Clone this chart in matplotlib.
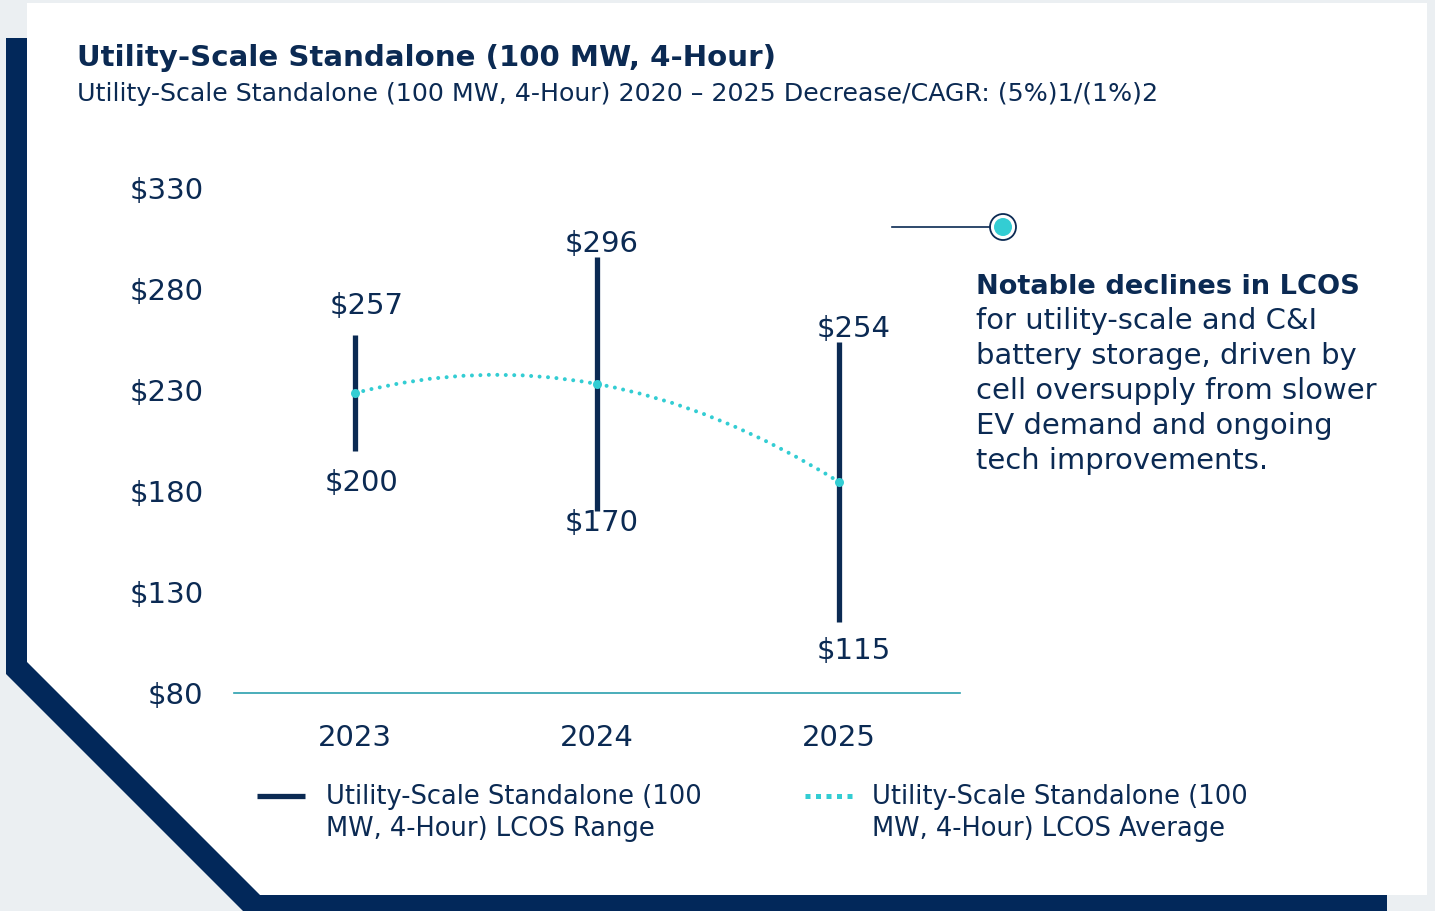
import numpy as np
import matplotlib
matplotlib.use("Agg")
import matplotlib.pyplot as plt
from matplotlib.patches import Polygon, Circle, PathPatch
from matplotlib.path import Path

plt.rcParams['font.family'] = ['DejaVu Sans']

# ---------------- data ----------------
years = ['2023', '2024', '2025']
range_low = [200, 170, 115]
range_high = [257, 296, 254]
average = [228.5, 233, 184.5]
yticks = [80, 130, 180, 230, 280, 330]
ytick_labels = ['\\$80', '\\$130', '\\$180', '\\$230', '\\$280', '\\$330']

title = 'Utility-Scale Standalone (100 MW, 4-Hour)'
subtitle = 'Utility-Scale Standalone (100 MW, 4-Hour) 2020 \u2013 2025 Decrease/CAGR: (5%)1/(1%)2'
note_head = 'Notable declines in LCOS'
note_lines = ['for utility-scale and C&I', 'battery storage, driven by',
              'cell oversupply from slower', 'EV demand and ongoing',
              'tech improvements.']
legend_range = ['Utility-Scale Standalone (100', 'MW, 4-Hour) LCOS Range']
legend_avg = ['Utility-Scale Standalone (100', 'MW, 4-Hour) LCOS Average']

# ---------------- style ----------------
NAVY = '#0b2a53'
BORDER = '#02285a'
TEAL = '#33cdd3'
AXIS_TEAL = '#2a9fae'
BG = '#ebeff2'
W, H = 1435, 911

fig = plt.figure(figsize=(W / 100, H / 100), dpi=100)
fig.patch.set_facecolor(BG)
renderer = fig.canvas.get_renderer()


def fit(t, width_px):
    w = t.get_window_extent(renderer).width
    t.set_fontsize(t.get_fontsize() * width_px / w)
    return t.get_fontsize()


# background / frame in pixel coordinates
bg = fig.add_axes([0, 0, 1, 1], zorder=0)
bg.set_xlim(0, W)
bg.set_ylim(H, 0)
bg.axis('off')
bg.add_patch(Polygon([(27, 3), (1427, 3), (1427, 895), (260, 895), (27, 662)],
                     closed=True, facecolor='white', edgecolor='none'))
bg.add_patch(Polygon([(6, 38), (27, 38), (27, 662), (260, 895), (1387, 895),
                      (1387, 911), (243, 911), (6, 674)],
                     closed=True, facecolor=BORDER, edgecolor='none'))

# titles
t = bg.text(77, 66, title, fontsize=21, fontweight='bold', color=NAVY, va='baseline')
fit(t, 700)
t = bg.text(77, 101, subtitle, fontsize=16, color=NAVY, va='baseline')
fit(t, 1086)

# note with marker
bg.plot([892, 990], [227, 227], color=NAVY, lw=1.2)
bg.add_patch(Circle((1003, 227), 13, facecolor='white', edgecolor=NAVY, lw=1.3))
bg.add_patch(Circle((1003, 227), 9, facecolor=TEAL, edgecolor='none'))
t = bg.text(976, 294, note_head, fontsize=19, fontweight='bold', color=NAVY, va='baseline')
fit(t, 385)
t = bg.text(976, 329, note_lines[2], fontsize=19, color=NAVY, va='baseline')
fs_note = fit(t, 401)
t.remove()
for i, line in enumerate(note_lines):
    bg.text(976, 329 + 35 * i, line, fontsize=fs_note, color=NAVY, va='baseline')

# legend
bg.plot([257, 305], [796, 796], color=NAVY, lw=3.8, solid_capstyle='butt')
bg.plot([805, 853], [796, 796], color=TEAL, lw=3.6, linestyle=(0, (1, 1.1)),
        dash_capstyle='butt')
t = bg.text(326, 804, legend_range[0], fontsize=16, color=NAVY, va='baseline')
fs_leg = fit(t, 377)
bg.text(326, 836, legend_range[1], fontsize=fs_leg, color=NAVY, va='baseline')
bg.text(872, 804, legend_avg[0], fontsize=fs_leg, color=NAVY, va='baseline')
bg.text(872, 836, legend_avg[1], fontsize=fs_leg, color=NAVY, va='baseline')

# ---------------- chart ----------------
ax = fig.add_axes([234 / W, (H - 693) / H, (960 - 234) / W, (693 - 188) / H], zorder=1)
ax.set_facecolor('none')
x = np.arange(len(years))
ax.set_xlim(-0.5, 2.5)
ax.set_ylim(80, 330)

ax.vlines(x, range_low, range_high, color=NAVY, lw=3.8, zorder=2)

# smooth average curve (quadratic Bezier segments through the data points)
yv = np.asarray(average, dtype=float)
d = np.gradient(yv, edge_order=2)
verts, codes = [(x[0], yv[0])], [Path.MOVETO]
for i in range(len(x) - 1):
    verts += [(x[i] + 0.5, yv[i] + d[i] * 0.5), (x[i + 1], yv[i + 1])]
    codes += [Path.CURVE3, Path.CURVE3]
ax.add_patch(PathPatch(Path(verts, codes), fill=False, edgecolor=TEAL, lw=2.9,
                       linestyle=(0, (0.001, 2.1)), capstyle='round', zorder=3))
ax.plot(x, average, 'o', ms=6.5, color=TEAL, mec='none', zorder=4)

# value labels
off_hi = [(-25, 29), (-32, 13), (-22, 13)]
off_lo = [(-30, -32), (-32, -12), (-22, -29)]
for i in range(len(years)):
    ax.annotate('\\$%d' % range_high[i], (x[i], range_high[i]), xytext=off_hi[i],
                textcoords='offset pixels', ha='left', va='center', fontsize=21,
                color=NAVY)
    ax.annotate('\\$%d' % range_low[i], (x[i], range_low[i]), xytext=off_lo[i],
                textcoords='offset pixels', ha='left', va='center', fontsize=21,
                color=NAVY)

ax.set_xticks(x)
ax.set_xticklabels(years, fontsize=21, color=NAVY)
ax.set_yticks(yticks)
ax.set_yticklabels(ytick_labels, fontsize=21, color=NAVY)
ax.tick_params(axis='both', length=0)
ax.tick_params(axis='y', pad=22)
ax.tick_params(axis='x', pad=22)
for s in ['left', 'top', 'right']:
    ax.spines[s].set_visible(False)
ax.spines['bottom'].set_color(AXIS_TEAL)
ax.spines['bottom'].set_linewidth(1.2)

fig.savefig('out.png', dpi=100, facecolor=fig.get_facecolor())
